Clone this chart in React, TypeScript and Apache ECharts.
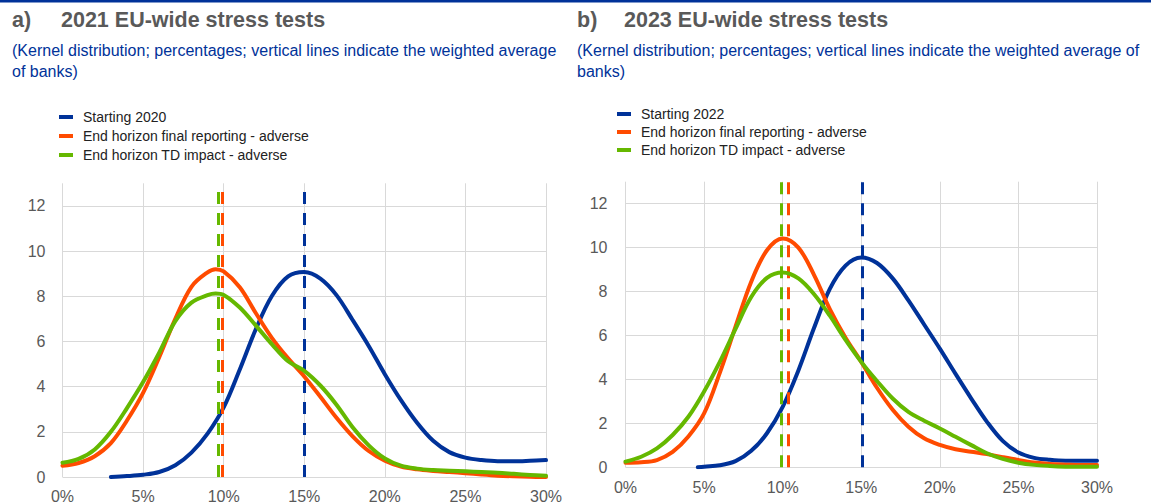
import React, { useEffect, useRef } from "react";
import * as echarts from "echarts";

// ---------- data ----------
const X_FULL = [0, 1, 2, 3, 4, 5, 6, 7, 8, 9, 10, 11, 12, 13, 14, 15, 16, 17, 18, 19, 20, 21, 22, 23, 24, 25, 26, 27, 28, 29, 30];
const X_PEAK_2021 = [0, 1, 2, 3, 4, 5, 6, 7, 8, 9, 9.5, 10, 11, 12, 13, 14, 15, 16, 17, 18, 19, 20, 21, 22, 23, 24, 25, 26, 27, 28, 29, 30];
const X_TICK_LABELS = ["0%", "5%", "10%", "15%", "20%", "25%", "30%"];

// Panel a) 2021
const NAMES_2021 = ["Starting 2020", "End horizon final reporting - adverse", "End horizon TD impact - adverse"];
const BLUE_2021_X = [3, 4, 5, 6, 7, 8, 9, 10, 11, 12, 13, 14, 15, 16, 17, 18, 19, 20, 21, 22, 23, 24, 25, 26, 27, 28, 29, 30];
const BLUE_2021 = [0.0, 0.04, 0.1, 0.22, 0.52, 1.08, 1.92, 3.08, 4.76, 6.55, 8.02, 8.88, 9.07, 8.78, 8.05, 6.95, 5.8, 4.55, 3.4, 2.4, 1.6, 1.1, 0.86, 0.75, 0.7, 0.7, 0.72, 0.75];
const ORANGE_2021 = [0.5, 0.62, 0.92, 1.5, 2.5, 3.72, 5.3, 7.0, 8.42, 9.06, 9.2, 9.1, 8.4, 7.25, 6.15, 5.25, 4.45, 3.55, 2.62, 1.8, 1.15, 0.72, 0.46, 0.34, 0.27, 0.22, 0.17, 0.11, 0.06, 0.03, 0.01, 0.0];
const GREEN_2021 = [0.63, 0.8, 1.22, 2.0, 3.05, 4.2, 5.5, 6.9, 7.72, 8.05, 8.12, 8.06, 7.5, 6.7, 5.87, 5.12, 4.7, 4.05, 3.2, 2.2, 1.4, 0.82, 0.5, 0.37, 0.31, 0.28, 0.25, 0.22, 0.19, 0.14, 0.09, 0.05];
const AVG_2021 = [15.0, 9.9, 9.65];

// Panel b) 2023
const NAMES_2023 = ["Starting 2022", "End horizon final reporting - adverse", "End horizon TD impact - adverse"];
const BLUE_2023_X = [4.6, 5, 6, 7, 8, 9, 10, 11, 12, 13, 14, 15, 16, 17, 18, 19, 20, 21, 22, 23, 24, 25, 26, 27, 28, 29, 30];
const BLUE_2023 = [0.0, 0.03, 0.09, 0.28, 0.75, 1.55, 2.75, 4.41, 6.35, 8.12, 9.18, 9.55, 9.3, 8.6, 7.6, 6.5, 5.4, 4.25, 3.13, 2.07, 1.2, 0.67, 0.43, 0.34, 0.3, 0.3, 0.3];
const ORANGE_2023 = [0.21, 0.23, 0.33, 0.7, 1.4, 2.45, 4.3, 6.4, 8.45, 9.88, 10.42, 10.0, 8.75, 7.2, 5.9, 4.8, 3.62, 2.62, 1.85, 1.32, 1.02, 0.82, 0.71, 0.6, 0.46, 0.33, 0.22, 0.15, 0.12, 0.1, 0.1];
const GREEN_2023 = [0.26, 0.48, 0.86, 1.47, 2.3, 3.45, 4.8, 6.3, 7.75, 8.62, 8.87, 8.6, 7.88, 6.9, 5.8, 4.8, 3.93, 3.13, 2.52, 2.12, 1.77, 1.39, 1.01, 0.64, 0.38, 0.21, 0.11, 0.06, 0.03, 0.02, 0.02];
const AVG_2023 = [15.05, 10.38, 9.9];

const COLORS = ["#003299", "#ff4b00", "#65b800"];
const FONT = 'Arial, "Liberation Sans", Helvetica, sans-serif';

const pairs = (xs: number[], ys: number[]) => xs.map((x, i) => [x, ys[i]]);

function buildSeries(names: string[], xsList: number[][], ysList: number[][], avgs: number[], idx: number) {
  return names.map((name, i) => ({
    type: "line",
    name,
    xAxisIndex: idx,
    yAxisIndex: idx,
    data: pairs(xsList[i], ysList[i]),
    smooth: 0.35,
    showSymbol: false,
    symbol: "none",
    lineStyle: { color: COLORS[i], width: 4, cap: "round", join: "round" },
    itemStyle: { color: COLORS[i] },
    z: 3 + i,
    markLine: {
      silent: true,
      symbol: ["none", "none"],
      label: { show: false },
      lineStyle: { color: COLORS[i], width: 3, type: [12, 9] },
      data: [{ xAxis: avgs[i] }],
    },
  }));
}

function axisPair(idx: number, xMargin: number, yMargin: number) {
  return {
    x: {
      type: "value",
      gridIndex: idx,
      min: 0,
      max: 30,
      interval: 5,
      axisLine: { show: false },
      axisTick: { show: false },
      axisLabel: {
        formatter: (v: number) => X_TICK_LABELS[Math.round(v / 5)] ?? "",
        color: "#595959",
        fontSize: 16,
        fontFamily: FONT,
        margin: xMargin,
      },
      splitLine: { show: true, lineStyle: { color: "#d9d9d9", width: 1 } },
    },
    y: {
      type: "value",
      gridIndex: idx,
      min: 0,
      max: 13,
      interval: 2,
      axisLine: { show: false },
      axisTick: { show: false },
      axisLabel: {
        color: "#595959",
        fontSize: 16,
        fontFamily: FONT,
        margin: yMargin,
        showMaxLabel: false,
      },
      splitLine: { show: true, showMaxLine: false, lineStyle: { color: "#d9d9d9", width: 1 } },
    },
  };
}

export default function App() {
  const ref = useRef<HTMLDivElement>(null);
  useEffect(() => {
    if (!ref.current) return;
    const chart = echarts.init(ref.current, undefined, { renderer: "svg" });
    const a = axisPair(0, 11, 17);
    const b = axisPair(1, 12, 18);
    const legendBase = {
      orient: "vertical",
      icon: "rect",
      itemWidth: 14,
      itemHeight: 4,
      selectedMode: false,
      textStyle: { fontSize: 14, color: "#222222", fontFamily: FONT, padding: [0, 0, 0, 5], lineHeight: 14 },
    };
    const titleFont = `bold 21.5px ${FONT}`;
    const subFont = `16px ${FONT}`;
    chart.setOption({
      animation: false,
      backgroundColor: "#ffffff",
      grid: [
        { left: 62.5, top: 183.3, width: 483.5, height: 294.4 },
        { left: 625.5, top: 181.7, width: 471.5, height: 285.6 },
      ],
      xAxis: [a.x, b.x],
      yAxis: [a.y, b.y],
      legend: [
        { ...legendBase, left: 54, top: 105, itemGap: 5, data: NAMES_2021 },
        { ...legendBase, left: 612, top: 102, itemGap: 4, data: NAMES_2023 },
      ],
      series: [
        ...buildSeries(NAMES_2021, [BLUE_2021_X, X_PEAK_2021, X_PEAK_2021], [BLUE_2021, ORANGE_2021, GREEN_2021], AVG_2021, 0),
        ...buildSeries(NAMES_2023, [BLUE_2023_X, X_FULL, X_FULL], [BLUE_2023, ORANGE_2023, GREEN_2023], AVG_2023, 1),
      ],
      graphic: [
        { type: "rect", left: 0, top: 0, shape: { x: 0, y: 0, width: 1151, height: 2.5 }, style: { fill: "#003299" } },
        { type: "text", x: 12, y: 20, style: { text: "a)", font: titleFont, fill: "#595959", verticalAlign: "middle" } },
        { type: "text", x: 61, y: 20, style: { text: "2021 EU-wide stress tests", font: titleFont, fill: "#595959", verticalAlign: "middle" } },
        { type: "text", x: 12, y: 50, style: { text: "(Kernel distribution; percentages; vertical lines indicate the weighted average", font: subFont, fill: "#003299", verticalAlign: "middle" } },
        { type: "text", x: 12, y: 71, style: { text: "of banks)", font: subFont, fill: "#003299", verticalAlign: "middle" } },
        { type: "text", x: 577, y: 20, style: { text: "b)", font: titleFont, fill: "#595959", verticalAlign: "middle" } },
        { type: "text", x: 624, y: 20, style: { text: "2023 EU-wide stress tests", font: titleFont, fill: "#595959", verticalAlign: "middle" } },
        { type: "text", x: 577, y: 50, style: { text: "(Kernel distribution; percentages; vertical lines indicate the weighted average of", font: subFont, fill: "#003299", verticalAlign: "middle" } },
        { type: "text", x: 577, y: 71, style: { text: "banks)", font: subFont, fill: "#003299", verticalAlign: "middle" } },
      ],
    });
    return () => chart.dispose();
  }, []);
  return (
    <div
      ref={ref}
      style={{ position: "absolute", left: 0, top: 0, width: 1151, height: 504, background: "#fff" }}
    />
  );
}
